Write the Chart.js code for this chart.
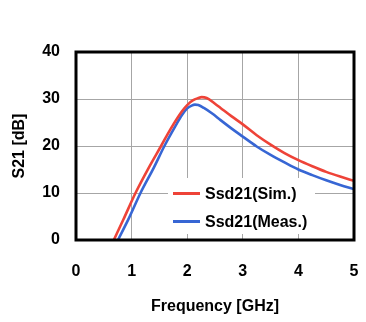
<!DOCTYPE html>
<html>
<head>
<meta charset="utf-8">
<script src="https://cdn.jsdelivr.net/npm/chart.js@4/dist/chart.umd.min.js"></script>
<style>
  html, body { margin: 0; padding: 0; background: #fff; }
  #wrap { width: 366px; height: 322px; }
</style>
</head>
<body>
<div id="wrap"><canvas id="s21Chart" width="366" height="322"></canvas></div>
<script>
// S21 curves (GHz, dB)
const freqSim = [0.68, 0.85, 1.07, 1.3, 1.53, 1.7, 1.9, 2.0, 2.1, 2.2, 2.26, 2.35, 2.5, 2.6, 2.8, 3.0, 3.25, 3.5, 3.75, 4.0, 4.25, 4.5, 4.75, 5.0];
const s21Sim = [0, 4.3, 10, 15.2, 20, 23.6, 27.3, 28.7, 29.7, 30.2, 30.4, 30.2, 29.0, 28.1, 26.3, 24.6, 22.3, 20.3, 18.5, 17.0, 15.7, 14.5, 13.5, 12.6];

const freqMeas = [0.755, 0.95, 1.16, 1.4, 1.59, 1.8, 1.9, 2.0, 2.08, 2.14, 2.2, 2.3, 2.45, 2.6, 2.8, 3.0, 3.25, 3.5, 3.75, 4.0, 4.25, 4.5, 4.75, 5.0];
const s21Meas = [0, 4.6, 10, 15.4, 20, 24.5, 26.5, 28.0, 28.6, 28.8, 28.7, 28.1, 26.9, 25.5, 23.7, 22.0, 19.9, 18.1, 16.5, 15.0, 13.8, 12.7, 11.7, 10.8];

const xTicks = [0, 1, 2, 3, 4, 5];
const yTicks = [0, 10, 20, 30, 40];

const seriesNames = ["Ssd21(Sim.)", "Ssd21(Meas.)"];
const seriesColors = ["#ee4338", "#3766d4"];

const toPoints = (xs, ys) => xs.map((x, i) => ({ x: x, y: ys[i] }));

// legend sits inside the plot, on a white box
const insideLegend = {
  id: "insideLegend",
  afterDatasetsDraw(chart) {
    const { ctx, chartArea } = chart;
    ctx.save();
    const boxLeft = chartArea.left + 92;
    const boxTop = chartArea.top + 126;
    ctx.fillStyle = "#fff";
    ctx.fillRect(boxLeft, boxTop, 147, chartArea.bottom - 6 - boxTop);

    ctx.font = "bold 16px 'Liberation Sans', Arial, sans-serif";
    ctx.textBaseline = "middle";
    ctx.textAlign = "left";
    seriesNames.forEach((name, i) => {
      const y = chartArea.top + 141.5 + i * 28;
      ctx.strokeStyle = seriesColors[i];
      ctx.lineWidth = 3;
      ctx.beginPath();
      ctx.moveTo(boxLeft + 5, y);
      ctx.lineTo(boxLeft + 32, y);
      ctx.stroke();
      ctx.fillStyle = "#000";
      ctx.fillText(name, boxLeft + 37, y + 1);
    });

    // frame around the plot
    ctx.strokeStyle = "#000";
    ctx.lineWidth = 3;
    ctx.strokeRect(chartArea.left, chartArea.top, chartArea.right - chartArea.left, chartArea.bottom - chartArea.top);
    ctx.restore();
  }
};

const ctx = document.getElementById("s21Chart").getContext("2d");
new Chart(ctx, {
  type: "line",
  data: {
    datasets: [
      {
        label: seriesNames[0],
        data: toPoints(freqSim, s21Sim),
        borderColor: seriesColors[0],
        borderWidth: 2.6,
        pointRadius: 0,
        cubicInterpolationMode: "monotone"
      },
      {
        label: seriesNames[1],
        data: toPoints(freqMeas, s21Meas),
        borderColor: seriesColors[1],
        borderWidth: 2.6,
        pointRadius: 0,
        cubicInterpolationMode: "monotone"
      }
    ]
  },
  options: {
    responsive: false,
    animation: false,
    layout: { padding: { left: 0, right: 12, top: 52, bottom: 0 } },
    plugins: {
      legend: { display: false },
      tooltip: { enabled: false }
    },
    scales: {
      x: {
        type: "linear",
        min: 0,
        max: 5,
        afterBuildTicks: (scale) => { scale.ticks = xTicks.map(v => ({ value: v })); },
        afterFit: (scale) => { scale.height = 82; },
        grid: { color: "#a6a6a6", lineWidth: 1, drawTicks: true, tickLength: 19, tickColor: "rgba(0,0,0,0)" },
        border: { display: false },
        ticks: {
          color: "#000",
          padding: 3,
          font: { family: "'Liberation Sans', Arial, sans-serif", size: 16, weight: "bold" }
        },
        title: {
          display: true,
          text: "Frequency [GHz]",
          color: "#000",
          padding: { top: 0, bottom: 6 },
          font: { family: "'Liberation Sans', Arial, sans-serif", size: 16, weight: "bold" }
        }
      },
      y: {
        min: 0,
        max: 40,
        afterBuildTicks: (scale) => { scale.ticks = yTicks.map(v => ({ value: v })); },
        afterFit: (scale) => { scale.width = 76; },
        grid: { color: "#a6a6a6", lineWidth: 1, drawTicks: false },
        border: { display: false },
        ticks: {
          color: "#000",
          padding: 16,
          font: { family: "'Liberation Sans', Arial, sans-serif", size: 16, weight: "bold" }
        },
        title: {
          display: true,
          text: "S21 [dB]",
          color: "#000",
          padding: { top: 10, bottom: 0 },
          font: { family: "'Liberation Sans', Arial, sans-serif", size: 16, weight: "bold" }
        }
      }
    }
  },
  plugins: [insideLegend]
});
</script>
</body>
</html>
